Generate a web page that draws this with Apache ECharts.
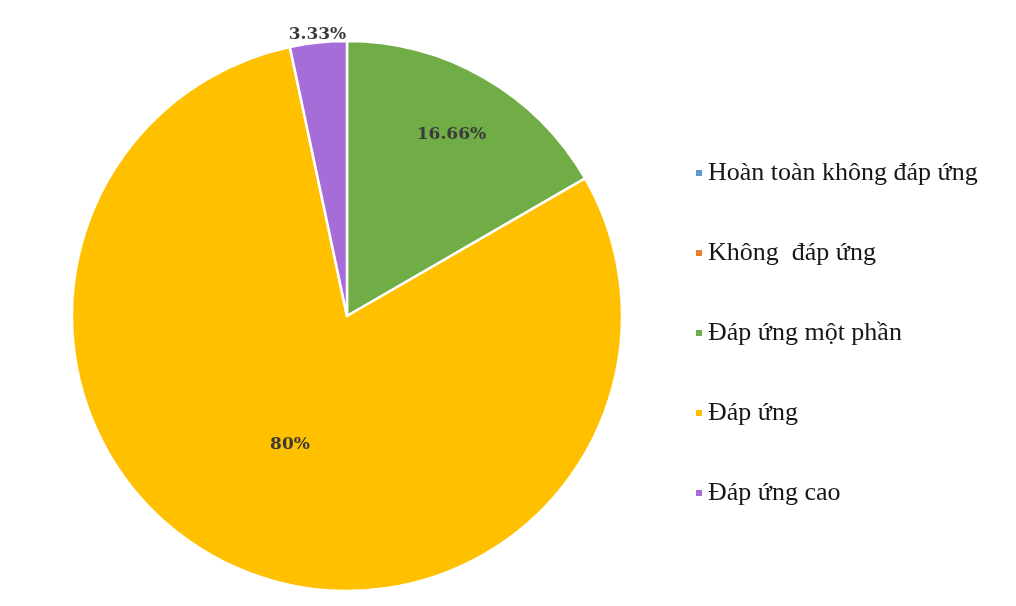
<!DOCTYPE html>
<html>
<head>
<meta charset="utf-8">
<script src="https://cdn.jsdelivr.net/npm/echarts@6/dist/echarts.min.js"></script>
<style>
  html, body { margin: 0; padding: 0; background: #ffffff; }
  #chart { width: 1016px; height: 606px; }
</style>
</head>
<body>
<div id="chart"></div>
<script>
// Mức độ đáp ứng (%)
const categories = ['Hoàn toàn không đáp ứng', 'Không  đáp ứng', 'Đáp ứng một phần', 'Đáp ứng', 'Đáp ứng cao'];
const shares = [0, 0, 16.66, 80, 3.33];
const palette = ['#5B9BD5', '#ED7D31', '#70AD47', '#FFC000', '#A66DD8'];

const CENTER = [347, 316];
const RADIUS = 275;
// distance of each slice's label from the centre, as a share of the radius
const labelReach = [0.6, 0.6, 0.76, 0.51, 1.03];

const total = shares.reduce((a, b) => a + b, 0);

// place a label on the bisector of its slice (clockwise from 12 o'clock)
function labelPoint(i) {
  let before = 0;
  for (let k = 0; k < i; k++) before += shares[k];
  const midDeg = 90 - (before + shares[i] / 2) / total * 360;
  const a = midDeg * Math.PI / 180;
  const r = RADIUS * labelReach[i];
  return [CENTER[0] + r * Math.cos(a), CENTER[1] - r * Math.sin(a)];
}

const chart = echarts.init(document.getElementById('chart'), null, { renderer: 'canvas' });

chart.setOption({
  backgroundColor: '#ffffff',
  animation: false,
  color: palette,
  legend: {
    orient: 'vertical',
    left: 689,
    top: 155,
    itemWidth: 8,
    itemHeight: 8,
    itemGap: 54,
    icon: 'rect',
    selectedMode: false,
    data: categories,
    textStyle: {
      fontFamily: '"Liberation Serif", "Times New Roman", serif',
      fontSize: 26,
      color: '#161616'
    }
  },
  series: [{
    type: 'pie',
    center: CENTER,
    radius: [0, RADIUS],
    startAngle: 90,
    clockwise: true,
    stillShowZeroSum: true,
    silent: true,
    itemStyle: {
      borderColor: '#ffffff',
      borderWidth: 2.5
    },
    label: {
      show: true,
      position: 'inside',
      formatter: p => (p.value > 0 ? p.value + '%' : ''),
      fontFamily: '"DejaVu Serif", serif',
      fontWeight: 'bold',
      fontSize: 17,
      color: '#3a3a3a'
    },
    labelLine: { show: false },
    labelLayout: params => {
      const pt = labelPoint(params.dataIndex);
      return { x: pt[0], y: pt[1], align: 'center', verticalAlign: 'middle' };
    },
    data: categories.map((name, i) => ({ name: name, value: shares[i] }))
  }]
});
</script>
</body>
</html>
